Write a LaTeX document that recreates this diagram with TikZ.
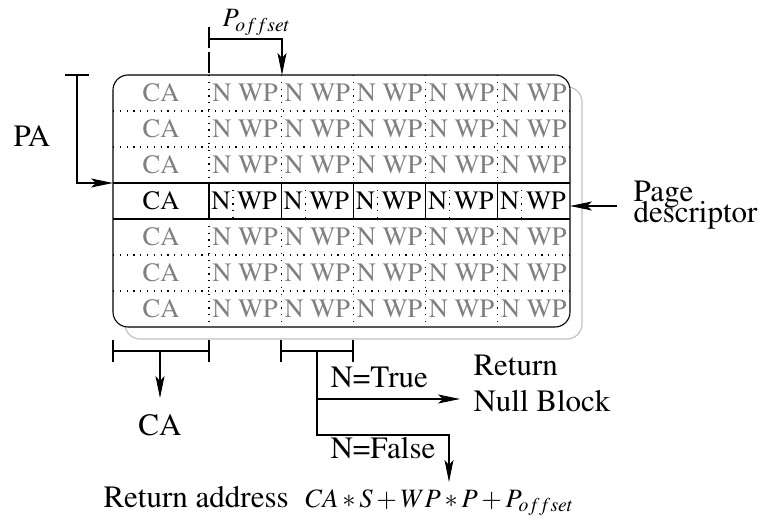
\documentclass[tikz,border=0pt]{standalone}
\usepackage[T1]{fontenc}
\usepackage{mathptmx}
\usetikzlibrary{arrows.meta}
\definecolor{cellgray}{RGB}{128,128,128}
\definecolor{shadowgray}{RGB}{190,190,190}
\tikzset{
  lbl/.style={font=\fontsize{31}{31}\selectfont, inner sep=0pt},
  mathlbl/.style={font=\fontsize{26.5}{26.5}\selectfont, inner sep=0pt},
  cell/.style={font=\fontsize{26.5}{26.5}\selectfont, inner sep=0pt},
  dotline/.style={line width=1.1pt, dash pattern=on 1.2pt off 5.6pt},
  arr/.style={-{Stealth[length=22pt,width=9pt,inset=5pt]}},
}

\begin{document}
\begin{tikzpicture}[x=1pt, y=-1pt, line width=1.1pt]
    \useasboundingbox (0,0) rectangle (760,518);

    % shadow and table
    \draw[shadowgray, rounded corners=15pt] (125,87) rectangle (582,339);
    \draw[fill=white, rounded corners=15pt] (113,75) rectangle (570,327);

    \foreach \r in {1,2,5,6}
        \draw[dotline] (113,75+36*\r) -- (570,75+36*\r);
    \draw (113,183) -- (570,183);
    \draw (113,219) -- (570,219);
    \foreach \c in {0,...,4} {
        \draw[dotline] (209+72.2*\c,75) -- (209+72.2*\c,183);
        \draw (209+72.2*\c,183) -- (209+72.2*\c,219);
        \draw[dotline] (209+72.2*\c,219) -- (209+72.2*\c,327);
        \draw[dotline] (233+72.2*\c,183) -- (233+72.2*\c,219);
    }

    % page table entries
    \foreach \r in {0,1,2,4,5,6} {
        \node[cell, text=cellgray] (ca\r) at (161,93+36*\r) {CA};
        \foreach \c in {0,...,4}
            \node[cell, text=cellgray] (nwp\r\c) at (245.1+72.2*\c,93+36*\r) {N WP};
    }
    \node[cell] (ca3) at (161,201) {CA};
    \foreach \c in {0,...,4} {
        \node[cell] (n3\c) at (221+72.2*\c,201) {N};
        \node[cell] (wp3\c) at (257.1+72.2*\c,201) {WP};
    }

    % PA
    \coordinate (paL) at (65,75);
    \coordinate (paR) at (89,75);
    \coordinate (paTop) at (77,75);
    \coordinate (paEnd) at (113,183);
    \draw (paL) -- (paR);
    \draw[arr] (paTop) |- (paEnd);
    \node[lbl, anchor=base west] (pa) at (13,147) {PA};

    % P offset
    \coordinate (offTop) at (209,27);
    \coordinate (offBase) at (209,75);
    \coordinate (offMid) at (209,39);
    \coordinate (offTip) at (282,75);
    \draw[dash pattern=on 21pt off 4pt] (offTop) -- (offBase);
    \draw[arr] (offMid) -| (offTip);
    \node[mathlbl, anchor=base west] (poff) at (222,27) {$P_{offset}$};

    % page descriptor
    \coordinate (pdStart) at (617,206);
    \coordinate (pdEnd) at (570,206);
    \draw[arr] (pdStart) -- (pdEnd);
    \node[lbl, anchor=base west] (pdPage) at (633,202) {Page};
    \node[lbl, anchor=base west] (pdDesc) at (633,223) {descriptor};

    % CA field
    \draw (113,340) -- (113,362) (113,351) -- (209,351) (209,340) -- (209,362);
    \coordinate (caMid) at (160,351);
    \coordinate (caTip) at (160,398);
    \draw[arr] (caMid) -- (caTip);
    \node[lbl, anchor=base] (caOut) at (160,435) {CA};

    % N field
    \draw (281,340) -- (281,362) (281,351) -- (353,351) (353,340) -- (353,362);
    \coordinate (nMid) at (317,351);
    \coordinate (nJoin) at (317,399);
    \coordinate (nullTip) at (460,399);
    \coordinate (fCorner) at (449,435);
    \coordinate (fTip) at (449,482);
    \draw[arr] (nJoin) -- (nullTip);
    \draw[arr] (nMid) |- (fCorner) -- (fTip);
    \node[lbl, anchor=base west] (nTrue) at (330,387) {N=True};
    \node[lbl, anchor=base west] (nFalse) at (330,458) {N=False};
    \node[lbl, anchor=base west] (retNull) at (473,375) {Return};
    \node[lbl, anchor=base west] (retBlock) at (473,411) {Null Block};

    % address
    \node[lbl, anchor=base west] (retAddr) at (103,507) {Return address};
    \node[mathlbl, anchor=base west] (addr) at (305,507) {$CA*S+WP*P+P_{offset}$};
\end{tikzpicture}
\end{document}
